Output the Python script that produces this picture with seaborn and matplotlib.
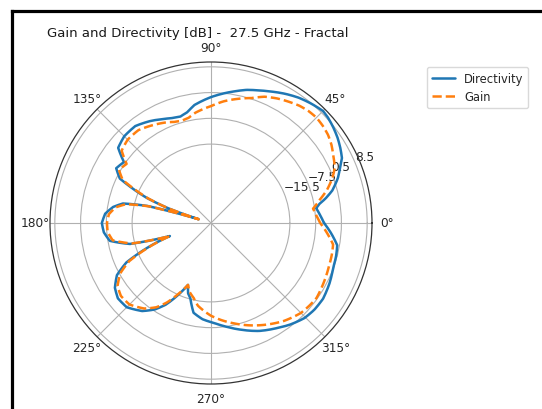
import numpy as np
import pandas as pd
import matplotlib
matplotlib.use("Agg")
import matplotlib.pyplot as plt
import seaborn as sns
from matplotlib.lines import Line2D

# Angles in degrees and values in dB
dir_angles = [0, 4, 8, 10, 12, 15, 19.5, 23, 26.4, 30, 34, 38, 42, 45, 50, 55, 60,
              65, 70, 75, 80, 85, 90, 98, 102, 106, 110, 114, 121, 128, 135, 141, 145,
              150, 154, 158.7, 161, 163, 165, 167.5, 170.7, 175, 180, 185, 190, 194.5,
              197.6, 201.3, 205, 209, 214, 219, 225, 232, 237, 241, 245, 249.6, 252,
              254.6, 259, 265, 272, 279, 286, 294, 302, 308, 314.5, 320, 326, 333,
              340, 345, 350, 355, 360]
dir_values = [-4.9, -6.0, -7.0, -5.8, -3.7, -1.0, 1.8, 3.5, 5.4, 6.4, 7.4, 8.2, 8.9,
              9.2, 8.4, 7.5, 6.3, 5.0, 3.8, 2.8, 1.5, 0.3, -0.9, -3.0, -4.8, -5.6,
              -5.3, -4.6, -3.1, -1.8, -1.9, -2.9, -7.0, -6.0, -8.5, -18.7, -26.0,
              -36.0, -19.5, -12.0, -9.2, -7.0, -6.1, -6.6, -8.1, -14.0, -26.6, -18.7,
              -11.0, -6.6, -4.0, -2.8, -3.0, -5.3, -8.0, -11.0, -15.0, -19.5, -17.0,
              -15.8, -11.6, -10.0, -8.9, -7.3, -5.5, -3.3, -1.5, 0.0, 1.4, 1.9, 2.0,
              1.3, 0.4, 0.2, -0.2, -2.5, -4.9]

gain_angles = [0, 4, 8, 12, 16, 20, 24, 29, 33, 37, 41, 45, 49, 53, 58, 62, 67, 72,
               78, 84, 90, 98, 102, 106, 110, 114, 121, 128, 135, 141, 145, 150, 154,
               158.7, 161, 163, 165, 167.5, 170.7, 175, 180, 185, 190, 194.5, 197.6,
               201.3, 205, 209, 214, 219, 225, 232, 237, 241, 245, 249.6, 253, 257,
               261, 265.5, 270, 276, 283, 290, 298, 306.6, 315, 320, 324.6, 332, 340,
               345, 350, 355, 360]
gain_values = [-6.1, -7.2, -8.0, -5.5, -2.5, 0.0, 2.1, 3.4, 4.6, 5.5, 6.0, 6.3, 6.1,
               5.6, 4.6, 3.8, 2.6, 0.8, -0.6, -2.0, -3.7, -5.4, -6.6, -7.0, -6.6,
               -5.8, -4.6, -3.4, -3.4, -4.3, -8.0, -7.0, -9.5, -19.2, -26.0, -36.0,
               -20.0, -13.0, -10.0, -8.2, -7.7, -7.8, -9.0, -14.6, -26.6, -19.2, -12.0,
               -7.8, -5.0, -4.0, -4.2, -6.3, -8.8, -11.8, -15.5, -19.5, -17.5, -16.1,
               -14.0, -12.6, -11.2, -9.7, -8.0, -6.2, -4.2, -2.1, -0.5, -0.1, 0.2,
               -0.4, -1.0, -1.2, -1.5, -3.8, -6.1]

r_ticks = [-15.5, -7.5, 0.5, 8.5]
r_tick_labels = ["\u221215.5", "\u22127.5", "0.5", "8.5"]
title = "Gain and Directivity [dB] -  27.5 GHz - Fractal"

df_dir = pd.DataFrame({"theta": np.deg2rad(dir_angles), "r": dir_values})
df_gain = pd.DataFrame({"theta": np.deg2rad(gain_angles), "r": gain_values})

sns.set_style("white")
plt.rcParams["font.family"] = ["DejaVu Sans"]

W, H = 542, 410
fig = plt.figure(figsize=(W / 100, H / 100), dpi=100)
cx, cy, R = 211, 224, 161
ax = fig.add_axes([(cx - R) / W, (H - cy - R) / H, 2 * R / W, 2 * R / H],
                  projection="polar")

sns.lineplot(data=df_dir, x="theta", y="r", ax=ax, sort=False, color="#1f77b4",
             lw=1.8, label="Directivity", estimator=None)
sns.lineplot(data=df_gain, x="theta", y="r", ax=ax, sort=False, color="#ff7f0e",
             lw=1.8, ls="--", label="Gain", estimator=None)
for ln in ax.get_lines():
    ln.get_path()._interpolation_steps = 20

ax.set_ylim(-40, 10)
ax.set_yticks(r_ticks)
ax.set_yticklabels(r_tick_labels)
ax.set_rlabel_position(22.5)
ax.set_xlabel("")
ax.set_ylabel("")
ax.grid(True, color="#b0b0b0", lw=0.8)
ax.tick_params(labelsize=8.7, colors="#262626")
ax.tick_params(axis="x", pad=0)
for sp in ax.spines.values():
    sp.set_color("#333333")
    sp.set_linewidth(0.9)

ax.legend_.remove()
handles = [Line2D([], [], color="#1f77b4", lw=1.8),
           Line2D([], [], color="#ff7f0e", lw=1.8, ls="--")]
fig.legend(handles, ["Directivity", "Gain"], loc="upper left",
           bbox_to_anchor=(427 / W, 1 - 68 / H), borderaxespad=0,
           fontsize=8.3, frameon=True, edgecolor="#d0d0d0", fancybox=True,
           handlelength=2.0)

fig.text(198 / W, 1 - 37 / H, title, ha="center", va="baseline",
         fontsize=9.5, color="#1a1a1a")

# black frame lines on top and left (screenshot border)
fig.add_artist(Line2D([12 / W, 12 / W], [0, 1 - 12 / H], transform=fig.transFigure,
                      color="black", lw=2.3, solid_capstyle="projecting"))
fig.add_artist(Line2D([12 / W, 1], [1 - 12 / H, 1 - 12 / H], transform=fig.transFigure,
                      color="black", lw=2.3, solid_capstyle="projecting"))

fig.savefig("out.png", dpi=100, facecolor="white")
